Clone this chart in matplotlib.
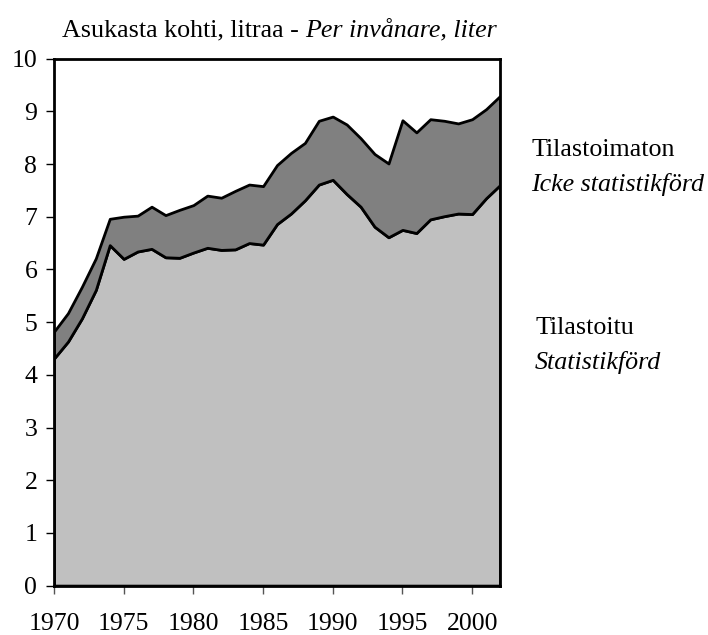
import matplotlib
matplotlib.use("Agg")
import matplotlib.pyplot as plt
import numpy as np

years = list(range(1970, 2003))
statistikford = [4.31, 4.63, 5.07, 5.61, 6.46, 6.20, 6.34, 6.39, 6.23, 6.22,
                 6.32, 6.41, 6.37, 6.38, 6.50, 6.47, 6.86, 7.06, 7.31, 7.61,
                 7.70, 7.43, 7.19, 6.81, 6.61, 6.75, 6.69, 6.95, 7.01, 7.06,
                 7.05, 7.35, 7.60]
icke_statistikford = [0.51, 0.54, 0.60, 0.60, 0.50, 0.80, 0.68, 0.80, 0.80, 0.91,
                      0.90, 0.99, 0.99, 1.11, 1.11, 1.11, 1.12, 1.15, 1.09, 1.21,
                      1.20, 1.32, 1.30, 1.38, 1.40, 2.08, 1.91, 1.90, 1.81, 1.71,
                      1.80, 1.69, 1.69]
xticks = [1970, 1975, 1980, 1985, 1990, 1995, 2000]
yticks = list(range(0, 11))

plt.rcParams['font.family'] = ['Liberation Serif', 'DejaVu Serif']

fig = plt.figure(figsize=(7.08, 6.35), dpi=100)
ax = fig.add_axes([54/708, 1-585.6/635, (500-54)/708, (585.6-58.6)/635])

ax.stackplot(years, statistikford, icke_statistikford,
             colors=['#c0c0c0', '#808080'], edgecolor='black', linewidth=2.0)

ax.set_xlim(1970, 2002)
ax.set_ylim(0, 10)
ax.set_xticks(xticks)
ax.set_yticks(yticks)
ax.tick_params(axis='both', labelsize=18.5, direction='out', length=6, width=1, colors='black')
ax.tick_params(axis='x', color='#555555', pad=14)
ax.tick_params(axis='y', pad=6)
for s in ax.spines.values():
    s.set_linewidth(2.0)
    s.set_color('black')

fs = 18.7
t1 = fig.text(62/708, 1-30/635, 'Asukasta kohti, litraa - ', ha='left', va='center', fontsize=fs)
fig.canvas.draw()
bb = t1.get_window_extent(fig.canvas.get_renderer())
fig.text(bb.x1/708, 1-30/635, 'Per invånare, liter', ha='left', va='center', fontsize=fs, style='italic')

fig.text(531/708, 1-150/635, 'Tilastoimaton', ha='left', va='center', fontsize=fs)
fig.text(531/708, 1-184/635, 'Icke statistikförd', ha='left', va='center', fontsize=fs, style='italic')
fig.text(535/708, 1-328/635, 'Tilastoitu', ha='left', va='center', fontsize=fs)
fig.text(535/708, 1-362/635, 'Statistikförd', ha='left', va='center', fontsize=fs, style='italic')

fig.savefig('out.png', dpi=100)
